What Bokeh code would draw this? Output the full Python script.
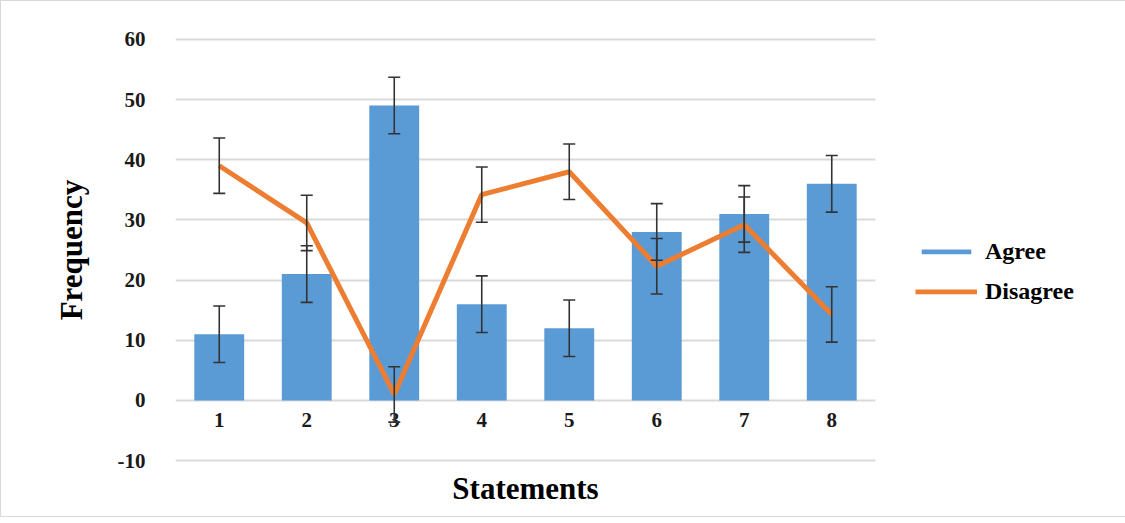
from bokeh.plotting import figure
from bokeh.models import (ColumnDataSource, Range1d, Whisker, TeeHead, LabelSet,
                          Legend, LegendItem, FixedTicker)
from bokeh.embed import file_html
from bokeh.resources import INLINE

statements = [1, 2, 3, 4, 5, 6, 7, 8]
labels = ["1", "2", "3", "4", "5", "6", "7", "8"]
agree = [11, 21, 49, 16, 12, 28, 31, 36]
disagree = [39, 29.5, 1, 34.2, 38, 22.3, 29.2, 14.3]
err_agree = [4.7] * 8
err_disagree = [4.6] * 8
yticks = [-10, 0, 10, 20, 30, 40, 50, 60]

BLUE = "#5B9BD5"
ORANGE = "#ED7D31"
FONT = "Liberation Serif"

src = ColumnDataSource(dict(
    x=statements, lab=labels, agree=agree, disagree=disagree,
    a_up=[a + e for a, e in zip(agree, err_agree)],
    a_lo=[a - e for a, e in zip(agree, err_agree)],
    d_up=[d + e for d, e in zip(disagree, err_disagree)],
    d_lo=[d - e for d, e in zip(disagree, err_disagree)],
    zero=[0] * 8,
))

p = figure(frame_width=700, frame_height=425, output_backend="svg", toolbar_location=None,
           x_range=Range1d(0.5, 8.5), y_range=Range1d(-10.3, 60.3),
           min_border_left=174, min_border_top=36,
           min_border_bottom=54, min_border_right=0)
p.outline_line_color = None
p.background_fill_color = "white"
p.styles = {"border": "1px solid #D9D9D9"}

p.xgrid.grid_line_color = None
p.ygrid.grid_line_color = "#D9D9D9"
p.ygrid.grid_line_width = 2

p.xaxis.ticker = FixedTicker(ticks=[])
p.xaxis.axis_line_color = None
p.xaxis.major_tick_line_color = None
p.xaxis.minor_tick_line_color = None
p.xaxis.axis_label = "Statements"
p.xaxis.axis_label_text_font = FONT
p.xaxis.axis_label_text_font_style = "bold"
p.xaxis.axis_label_text_font_size = "31px"
p.xaxis.axis_label_text_color = "black"
p.xaxis.axis_label_standoff = 8

p.yaxis.ticker = FixedTicker(ticks=yticks)
p.yaxis.major_label_overrides = {-10: "-10"}
p.yaxis.axis_line_color = None
p.yaxis.major_tick_line_color = None
p.yaxis.minor_tick_line_color = None
p.yaxis.major_label_text_font = FONT
p.yaxis.major_label_text_font_style = "bold"
p.yaxis.major_label_text_font_size = "21px"
p.yaxis.major_label_text_color = "#1a1a1a"
p.yaxis.major_label_standoff = 24
p.yaxis.axis_label = "Frequency"
p.yaxis.axis_label_text_font = FONT
p.yaxis.axis_label_text_font_style = "bold"
p.yaxis.axis_label_text_font_size = "31px"
p.yaxis.axis_label_text_color = "black"
p.yaxis.axis_label_standoff = 26

bars = p.vbar(x="x", top="agree", width=0.57, source=src, fill_color=BLUE, line_color=None)
line = p.line(x="x", y="disagree", source=src, line_color=ORANGE, line_width=5)

for up, lo in (("a_up", "a_lo"), ("d_up", "d_lo")):
    p.add_layout(Whisker(source=src, base="x", upper=up, lower=lo, level="overlay",
                         line_color="#333333", line_width=1.6,
                         upper_head=TeeHead(size=12, line_color="#333333", line_width=1.6),
                         lower_head=TeeHead(size=12, line_color="#333333", line_width=1.6)))

p.add_layout(LabelSet(x="x", y="zero", text="lab", source=src, y_offset=-20,
                      text_align="center", text_baseline="middle",
                      text_font=FONT, text_font_style="bold", text_font_size="21px",
                      text_color="#1a1a1a"))

legend = Legend(items=[LegendItem(label="Agree", renderers=[bars]),
                       LegendItem(label="Disagree", renderers=[line])],
                location="left", glyph_width=62, glyph_height=6,
                title=" ", title_text_font_size="24px", title_standoff=15,
                label_text_font=FONT, label_text_font_style="bold",
                label_text_font_size="24px", label_text_color="black",
                label_height=30, spacing=10,
                label_standoff=8, padding=0, margin=40, border_line_color=None,
                background_fill_alpha=0)
p.add_layout(legend, "right")

open("out.html", "w").write(file_html(p, INLINE))
